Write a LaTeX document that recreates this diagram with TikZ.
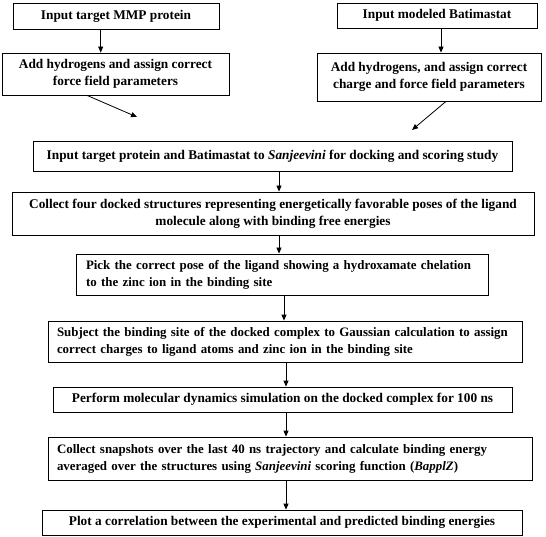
\documentclass[tikz,border=0pt]{standalone}
\usepackage{fontspec}
\setmainfont{Liberation Serif}
\usetikzlibrary{arrows.meta,positioning}
\begin{document}
\begin{tikzpicture}[x=1pt,y=-1pt,
  box/.style={draw, line width=0.8pt, rectangle, inner sep=0pt,
    font=\fontsize{13.3}{17}\selectfont\bfseries},
  lbox/.style={box, align=left, font=\fontsize{12.9}{17}\selectfont\bfseries},
  arr/.style={-{Triangle[length=6pt,width=5pt]}, line width=0.8pt}]
\useasboundingbox (0,0) rectangle (546,537);
\node[box, minimum width=206pt, minimum height=26pt, align=center] (a) at (116,16) {Input target MMP protein};
\node[box, minimum width=227pt, minimum height=42pt, align=center] (b) at (115.5,74) {Add hydrogens and assign correct\\force field parameters};
\node[box, minimum width=200pt, minimum height=25pt, align=center] (c) at (437,15.5) {Input modeled Batimastat};
\node[box, minimum width=224pt, minimum height=48pt, align=center] (d) at (429,77) {Add hydrogens, and assign correct\\charge and force field parameters};
\node[box, minimum width=479pt, minimum height=30pt, align=center] (e) at (272.5,156) {Input target protein and Batimastat to \textit{Sanjeevini} for docking and scoring study};
\node[box, minimum width=522pt, minimum height=43pt, align=center] (f) at (273,213.5) {Collect four docked structures representing energetically favorable poses of the ligand\\molecule along with binding free energies};
\node[lbox, minimum height=41pt, text width=392pt, inner xsep=10pt] (g) at (282,274.5) {\mbox{Pick the correct pose of the ligand showing a hydroxamate chelation}\\\mbox{to the zinc ion in the binding site}};
\node[lbox, minimum height=41pt, text width=456pt, inner xsep=9pt] (h) at (285,341.5) {\mbox{Subject the binding site of the docked complex to Gaussian calculation to assign}\\\mbox{correct charges to ligand atoms and zinc ion in the binding site}};
\node[box, minimum width=459pt, minimum height=25pt, align=center] (i) at (282.5,399.5) {Perform molecular dynamics simulation on the docked complex for 100 ns};
\node[lbox, minimum height=43pt, text width=466pt, inner xsep=9pt] (j) at (290,458.5) {\mbox{Collect snapshots over the last 40 ns trajectory and calculate binding energy}\\\mbox{averaged over the structures using \textit{Sanjeevini} scoring function (\textit{BapplZ})}};
\node[box, minimum width=480pt, minimum height=25pt, align=center] (k) at (282,522.5) {Plot a correlation between the experimental and predicted binding energies};
\coordinate (bt) at (137,117);
\coordinate (dt) at (412,130);
\draw[arr] ([xshift=-15.3pt]a.south) -- ([xshift=-14.8pt]b.north);
\draw[arr] ([xshift=4pt]c.south) -- ([xshift=12pt]d.north);
\draw[arr] ([xshift=-28.5pt]b.south) -- (bt);
\draw[arr] ([xshift=17pt]d.south) -- (dt);
\draw[arr] ([xshift=6.5pt]e.south) -- ([xshift=6pt]f.north);
\draw[arr] ([xshift=6pt]f.south) -- ([xshift=-3pt]g.north);
\draw[arr] ([xshift=2pt]g.south) -- ([xshift=-1pt]h.north);
\draw[arr] ([xshift=1pt]h.south) -- ([xshift=3.5pt]i.north);
\draw[arr] ([xshift=3.5pt]i.south) -- ([xshift=-4pt]j.north);
\draw[arr] ([xshift=-4pt]j.south) -- ([xshift=4pt]k.north);
\end{tikzpicture}
\end{document}
